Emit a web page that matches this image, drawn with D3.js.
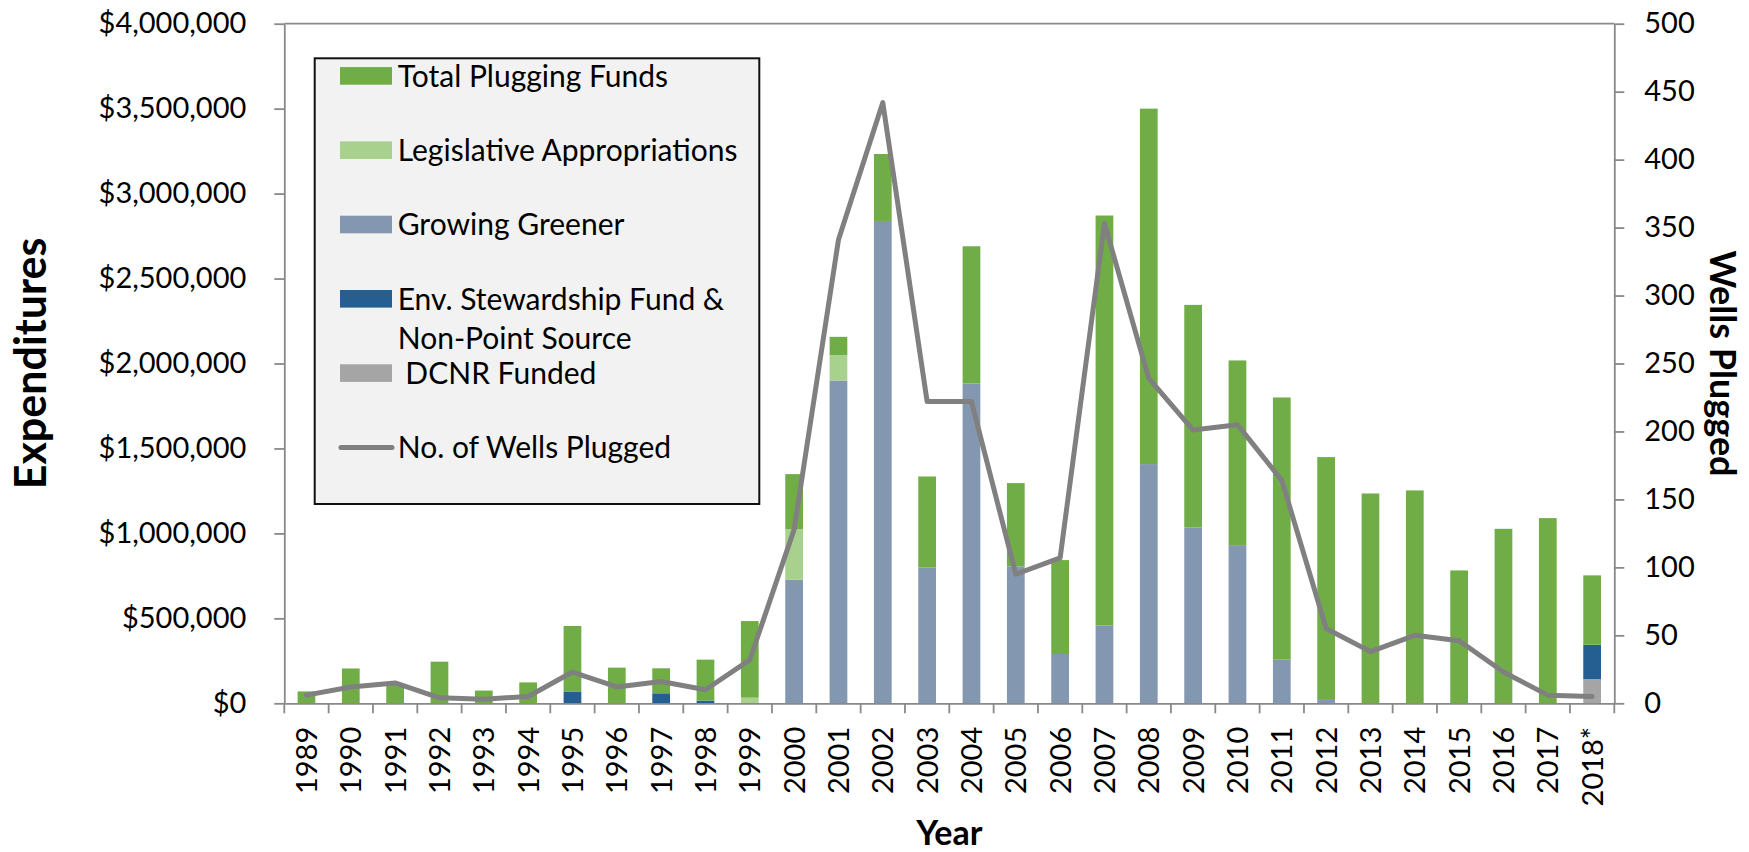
<!DOCTYPE html>
<html><head><meta charset="utf-8">
<script src="https://cdn.jsdelivr.net/npm/d3@7"></script>
<style>
html,body{margin:0;padding:0;background:#fff;}
svg{display:block;font-family:Lato,"Open Sans",sans-serif;}
</style>
</head><body>
<svg id="chart" width="1749" height="852"></svg>
<script>
// ---- data ----
const years = ["1989","1990","1991","1992","1993","1994","1995","1996","1997","1998","1999","2000","2001","2002","2003","2004","2005","2006","2007","2008","2009","2010","2011","2012","2013","2014","2015","2016","2017","2018*"];
const dcnrFunded =                [0,0,0,0,0,0,0,0,0,0,0,0,0,0,0,0,0,0,0,0,0,0,0,0,0,0,0,0,0,143000];
const envStewardship =            [0,0,0,0,0,0,67000,0,59000,16000,0,0,0,0,0,0,0,0,0,0,0,0,0,0,0,0,0,0,0,202000];
const growingGreener =            [0,0,0,0,0,0,0,0,0,0,0,727000,1900000,2839000,800000,1882000,806000,290000,459000,1408000,1035000,931000,257000,25000,0,0,0,0,0,0];
const legislativeAppropriations = [0,0,0,0,0,0,0,0,0,0,33000,298000,149000,0,0,0,0,0,0,0,0,0,0,0,0,0,0,0,0,0];
const totalPluggingFunds =        [70000,205000,115000,245000,75000,123000,388000,210000,147000,241000,451000,324000,108000,394000,535000,808000,490000,553000,2412000,2092000,1310000,1087000,1543000,1424000,1235000,1253000,782000,1027000,1090000,408000];
const wellsPlugged = [6,12,15,4,3,5,23,12,16,10,32,128,341,442,222,222,95,107,353,239,201,205,164,55,38,50,46,23,6,5];
const leftTicks = [0,500000,1000000,1500000,2000000,2500000,3000000,3500000,4000000];
const rightTicks = [0,50,100,150,200,250,300,350,400,450,500];
const seriesKeys = ["dcnr","env","gg","leg","total"];
const seriesColors = {total:"#70ad47", leg:"#a9d18e", gg:"#8497b0", env:"#255e91", dcnr:"#a5a5a5"};
const legendItems = [
  {key:"total", label:["Total Plugging Funds"]},
  {key:"leg", label:["Legislative Appropriations"]},
  {key:"gg", label:["Growing Greener"]},
  {key:"env", label:["Env. Stewardship Fund &","Non-Point Source"]},
  {key:"dcnr", label:["\u00a0DCNR Funded"]},
  {key:"line", label:["No. of Wells Plugged"]}
];

// ---- layout ----
const L = 284.3, R = 1614.3, T = 23.7, B = 703.3;
const axisColor = "#898989";
const tickFont = 29;
const svg = d3.select("#chart");

const rows = years.map((y,i)=>({year:y, dcnr:dcnrFunded[i], env:envStewardship[i], gg:growingGreener[i], leg:legislativeAppropriations[i], total:totalPluggingFunds[i]}));

const x = d3.scaleBand().domain(years).range([L,R]).paddingInner(0.6).paddingOuter(0.3);
const yL = d3.scaleLinear().domain([0,4000000]).range([B,T]);
const yR = d3.scaleLinear().domain([0,500]).range([B,T]);

// bars
const stacked = d3.stack().keys(seriesKeys)(rows);
svg.append("g").selectAll("g").data(stacked).join("g")
  .attr("fill", d=>seriesColors[d.key])
  .selectAll("rect").data(d=>d).join("rect")
  .attr("x", d=>x(d.data.year))
  .attr("width", x.bandwidth())
  .attr("y", d=>yL(d[1]))
  .attr("height", d=>Math.max(0, yL(d[0])-yL(d[1])));

// plot frame top
svg.append("line").attr("x1",L).attr("x2",R).attr("y1",T).attr("y2",T)
  .attr("stroke",axisColor).attr("stroke-width",1.8);

// left axis
const gL = svg.append("g").attr("transform",`translate(${L},0)`)
  .call(d3.axisLeft(yL).tickValues(leftTicks).tickSize(10).tickSizeOuter(0).tickPadding(28)
    .tickFormat(d=>"$"+d3.format(",")(d)));
// right axis
const gR = svg.append("g").attr("transform",`translate(${R},0)`)
  .call(d3.axisRight(yR).tickValues(rightTicks).tickSize(10).tickSizeOuter(0).tickPadding(20));
// x axis
const step = x.step();
const gX = svg.append("g").attr("transform",`translate(0,${B})`)
  .call(d3.axisBottom(x).tickSize(0).tickPadding(0).tickSizeOuter(0));
gX.selectAll(".tick text")
  .attr("text-anchor","end")
  .attr("transform","translate(0,23.5) rotate(-90)")
  .attr("x",0).attr("y",0).attr("dy","0.36em");
const boundaries = d3.range(years.length+1).map(i=>L + i*step);
gX.selectAll("line.bnd").data(boundaries).join("line").attr("class","bnd")
  .attr("x1",d=>d).attr("x2",d=>d).attr("y1",0).attr("y2",10);

[gL,gR,gX].forEach(g=>{
  g.selectAll("path.domain").attr("stroke",axisColor).attr("stroke-width",1.8);
  g.selectAll("line").attr("stroke",axisColor).attr("stroke-width",1.8);
  g.selectAll("text").attr("fill","#000").attr("font-size",tickFont).attr("font-family","Lato");
});

// wells line
const line = d3.line().x((d,i)=>x(years[i])+x.bandwidth()/2).y(d=>yR(d));
svg.append("path").datum(wellsPlugged).attr("d",line)
  .attr("fill","none").attr("stroke","#808080").attr("stroke-width",5)
  .attr("stroke-linejoin","round").attr("stroke-linecap","round");

// axis titles
svg.append("text").attr("transform",`translate(46,${(T+B)/2}) rotate(-90)`)
  .attr("text-anchor","middle").attr("font-weight","bold").attr("font-size",43).text("Expenditures");
svg.append("text").attr("transform",`translate(1710,${(T+B)/2}) rotate(90)`)
  .attr("text-anchor","middle").attr("font-weight","bold").attr("font-size",36).text("Wells Plugged");
svg.append("text").attr("x",(L+R)/2).attr("y",845)
  .attr("text-anchor","middle").attr("font-weight","bold").attr("font-size",34).text("Year");

// legend
const lg = svg.append("g");
lg.append("rect").attr("x",314.7).attr("y",58.3).attr("width",444.6).attr("height",445.7)
  .attr("fill","#f2f2f2").attr("stroke","#111").attr("stroke-width",2);
const rowStep = 74.3, firstCenter = 75.9, fs = 30;
legendItems.forEach((it,i)=>{
  const cy = firstCenter + i*rowStep;
  if(it.key==="line"){
    lg.append("line").attr("x1",341).attr("x2",392).attr("y1",cy).attr("y2",cy)
      .attr("stroke","#808080").attr("stroke-width",5).attr("stroke-linecap","round");
  } else {
    lg.append("rect").attr("x",340).attr("y",cy-8.8).attr("width",52).attr("height",17.6)
      .attr("fill",seriesColors[it.key]);
  }
  it.label.forEach((t,j)=>{
    lg.append("text").attr("x",397.7).attr("y",cy + j*39.5 + fs*0.36)
      .attr("font-size",fs).attr("fill","#000").text(t);
  });
});
</script>
</body></html>
